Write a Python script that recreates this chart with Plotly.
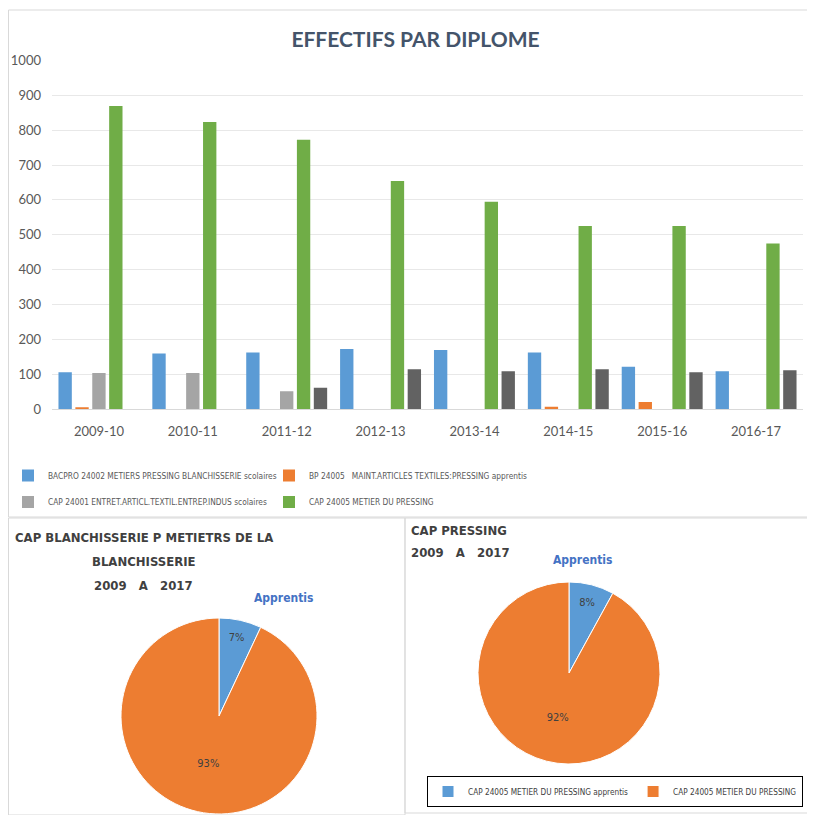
import plotly.graph_objects as go

# ---------------- data ----------------
categories = ["2009-10", "2010-11", "2011-12", "2012-13", "2013-14", "2014-15", "2015-16", "2016-17"]
bacpro_24002 = [106, 160, 163, 173, 170, 163, 122, 109]
bp_24005 = [5, None, None, None, None, 7, 21, None]
cap_24001 = [104, 104, 52, None, None, None, None, None]
cap_24005 = [869, 823, 772, 654, 595, 525, 525, 475]
cap_24005_app = [None, None, 62, 115, 109, 115, 106, 112]

series_names = [
    "BACPRO 24002 METIERS PRESSING BLANCHISSERIE scolaires",
    "BP 24005   MAINT.ARTICLES TEXTILES:PRESSING apprentis",
    "CAP 24001 ENTRET.ARTICL.TEXTIL.ENTREP.INDUS scolaires",
    "CAP 24005 METIER DU PRESSING",
    "CAP 24005 METIER DU PRESSING apprentis",
]
y_ticks = [0, 100, 200, 300, 400, 500, 600, 700, 800, 900, 1000]

pie1_labels = ["Apprentis", "CAP BLANCHISSERIE scolaires"]
pie1_values = [7, 93]
pie2_labels = ["CAP 24005 METIER DU PRESSING apprentis", "CAP 24005 METIER DU PRESSING"]
pie2_values = [8, 92]

# ---------------- styling ----------------
W = H = 815
OFF = 8  # page offset of the figure inside the browser window
def px(x):
    return (x - OFF) / W
def py(y):
    return 1 - (y - OFF) / H

BLUE = "#5B9BD5"
ORANGE = "#ED7D31"
GRAY = "#A5A5A5"
GREEN = "#70AD47"
DARK = "#626262"
TXT = "#595959"
NARROW = "Liberation Sans Narrow, Arial Narrow, DejaVu Sans Condensed, sans-serif"
TITLEF = "Lato, Open Sans, sans-serif"

fig = go.Figure()

bar_series = [bacpro_24002, bp_24005, cap_24001, cap_24005, cap_24005_app]
colors = [BLUE, ORANGE, GRAY, GREEN, DARK]
legends = ["legend", "legend", "legend2", "legend2", "legend"]
shows = [True, True, True, True, False]
for name, vals, c, lg, sh in zip(series_names, bar_series, colors, legends, shows):
    fig.add_trace(go.Bar(
        x=categories, y=vals, name=name, marker=dict(color=c, line=dict(width=0)),
        legend=lg, showlegend=sh, xaxis="x", yaxis="y",
    ))

fig.add_trace(go.Pie(
    labels=pie1_labels, values=pie1_values, sort=False, direction="clockwise", rotation=0,
    marker=dict(colors=[BLUE, ORANGE], line=dict(color="white", width=1)),
    textinfo="percent", textposition="inside", insidetextorientation="horizontal",
    textfont=dict(size=11, color="#404040", family=NARROW),
    domain=dict(x=[px(120), px(318)], y=[py(814), py(618)]),
    showlegend=False, hoverinfo="label+percent",
))
fig.add_trace(go.Pie(
    labels=pie2_labels, values=pie2_values, sort=False, direction="clockwise", rotation=0,
    marker=dict(colors=[BLUE, ORANGE], line=dict(color="white", width=1)),
    textinfo="percent", textposition="inside", insidetextorientation="horizontal",
    textfont=dict(size=11, color="#404040", family=NARROW),
    domain=dict(x=[px(478), px(660)], y=[py(764), py(582)]),
    legend="legend3", showlegend=True, hoverinfo="label+percent",
))

TF = dict(family=NARROW, size=13, color="#404040")
annotations = []
for txt, x, y, xa in [
    ("<b>CAP BLANCHISSERIE P METIETRS DE LA</b>", 143.5, 537, "center"),
    ("<b>BLANCHISSERIE</b>", 143.5, 561, "center"),
    ("<b>2009   A   2017</b>", 143.5, 585, "center"),
    ("<b>CAP PRESSING</b>", 409, 530, "left"),
    ("<b>2009   A   2017</b>", 409, 552, "left"),
]:
    annotations.append(dict(text=txt, x=px(x), y=py(y), xref="paper", yref="paper", showarrow=False,
                            xanchor=xa, yanchor="middle", font=TF))
for x, y in [(252, 607), (614, 569)]:
    annotations.append(dict(text="<b>Apprentis</b>", x=px(x), y=py(y), xref="paper", yref="paper",
                            showarrow=False, font=dict(family=NARROW, size=12, color="#4472C4")))

shapes = [
    dict(type="rect", xref="paper", yref="paper", x0=px(8.5), x1=px(814), y0=py(517), y1=py(10),
         line=dict(color="#D9D9D9", width=1)),
    dict(type="rect", xref="paper", yref="paper", x0=px(8.5), x1=px(405), y0=py(815), y1=py(518),
         line=dict(color="#D9D9D9", width=1)),
    dict(type="rect", xref="paper", yref="paper", x0=px(405), x1=px(813), y0=py(813), y1=py(518),
         line=dict(color="#D9D9D9", width=1)),
]

legend_common = dict(orientation="h", xref="paper", yref="paper", xanchor="left", yanchor="middle",
                     font=dict(family=NARROW, size=8.3, color=TXT), bgcolor="rgba(0,0,0,0)",
                     entrywidth=216, entrywidthmode="pixels", itemwidth=30, tracegroupgap=0)

fig.update_layout(
    width=W, height=H, margin=dict(l=0, r=0, t=0, b=0, autoexpand=False),
    paper_bgcolor="white", plot_bgcolor="white",
    title=dict(text="<b>EFFECTIFS PAR DIPLOME</b>", x=px(415.5), y=py(40), xanchor="center",
               yanchor="middle", font=dict(family=TITLEF, size=21, color="#44546A")),
    barmode="group", bargap=0.1, bargroupgap=0.21,
    xaxis=dict(domain=[px(52), px(803)], anchor="y", type="category", showgrid=False, showline=True,
               linecolor="#D9D9D9", ticks="", tickfont=dict(family=TITLEF, size=13, color=TXT),
               ticklabelstandoff=10, automargin=False),
    yaxis=dict(domain=[py(409.3), py(60.3)], anchor="x", range=[0, 1000], tickvals=y_ticks,
               showgrid=True, gridcolor="#E8E8E8", zeroline=False, showline=False, ticks="",
               tickfont=dict(family=TITLEF, size=13, color=TXT), ticklabelstandoff=10, automargin=False),
    legend=dict(x=0, y=py(475.5), **legend_common),
    legend2=dict(x=0, y=py(502), **legend_common),
    legend3=dict(orientation="h", xref="paper", yref="paper", xanchor="left", yanchor="top",
                 x=px(427), y=py(776), font=dict(family=NARROW, size=8.2, color="#404040"),
                 bordercolor="#000000", borderwidth=1, bgcolor="white", itemwidth=30),
    annotations=annotations, shapes=shapes,
)

fig.write_html("out.html")
